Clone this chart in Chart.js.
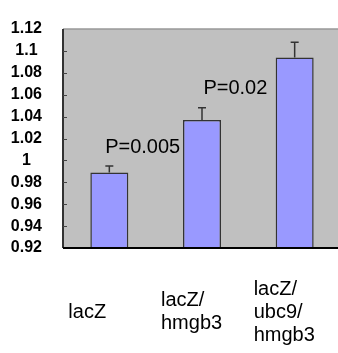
<!DOCTYPE html>
<html>
<head>
<meta charset="utf-8">
<script src="https://cdn.jsdelivr.net/npm/chart.js@4.4.1/dist/chart.umd.min.js"></script>
<style>
  html, body { margin: 0; padding: 0; background: #fff; overflow: hidden; }
  #barChart { display: block; }
</style>
</head>
<body>
<canvas id="barChart" width="341" height="353"></canvas>
<script>
const categories = [['lacZ'], ['lacZ/', 'hmgb3'], ['lacZ/', 'ubc9/', 'hmgb3']];
const means = [0.989, 1.037, 1.094];
const errors = [0.006, 0.011, 0.014];
const yTicks = [0.92, 0.94, 0.96, 0.98, 1.0, 1.02, 1.04, 1.06, 1.08, 1.1, 1.12];
const pLabels = ['P=0.005', 'P=0.02'];
const pX = [0.36, 1.36];   // in category units
const pY = [1.012, 1.066]; // in value units

const FONT = '"Liberation Sans", Arial, sans-serif';

// gray plot area, frame, inward ticks, error bars and p-values
const plotDecor = {
    id: 'plotDecor',
    beforeDraw(chart) {
        const {ctx, chartArea: a} = chart;
        ctx.save();
        ctx.fillStyle = '#c0c0c0';
        ctx.fillRect(a.left, a.top, a.right - a.left, a.bottom - a.top);
        ctx.restore();
    },
    afterDatasetsDraw(chart) {
        const {ctx, chartArea: a, scales: {x, y}} = chart;
        ctx.save();

        ctx.strokeStyle = '#999';
        ctx.lineWidth = 1.5;
        ctx.beginPath();
        ctx.moveTo(a.left, a.top);
        ctx.lineTo(a.right, a.top);
        ctx.stroke();

        ctx.strokeStyle = '#333';
        ctx.lineWidth = 2;
        ctx.beginPath();
        ctx.moveTo(a.left, a.top);
        ctx.lineTo(a.left, a.bottom);
        ctx.stroke();
        ctx.strokeStyle = '#000';
        ctx.beginPath();
        ctx.moveTo(a.left, a.bottom);
        ctx.lineTo(a.right, a.bottom);
        ctx.stroke();

        ctx.strokeStyle = '#444';
        ctx.lineWidth = 1;
        yTicks.slice(1, -1).forEach(v => {
            const py = Math.round(y.getPixelForValue(v)) + 0.5;
            ctx.beginPath();
            ctx.moveTo(a.left, py);
            ctx.lineTo(a.left + 4, py);
            ctx.stroke();
        });

        ctx.strokeStyle = '#333';
        ctx.lineWidth = 1.5;
        means.forEach((m, i) => {
            const px = x.getPixelForValue(i);
            const top = y.getPixelForValue(m);
            const end = y.getPixelForValue(m + errors[i]);
            ctx.beginPath();
            ctx.moveTo(px, top);
            ctx.lineTo(px, end);
            ctx.moveTo(px - 4, end);
            ctx.lineTo(px + 4, end);
            ctx.stroke();
        });

        ctx.fillStyle = '#000';
        ctx.font = '20px ' + FONT;
        ctx.textAlign = 'center';
        ctx.textBaseline = 'middle';
        pLabels.forEach((t, i) => {
            ctx.fillText(t, x.getPixelForValue(pX[i]), y.getPixelForValue(pY[i]));
        });
        ctx.restore();
    }
};

let ctxBar = document.getElementById('barChart').getContext('2d');

let barChart = new Chart(ctxBar, {
    type: 'bar', data: {
        labels: categories, datasets: [{
            data: means,
            backgroundColor: '#9999ff',
            borderColor: '#333',
            borderWidth: 1.5,
            categoryPercentage: 1,
            barPercentage: 0.41
        }]
    }, options: {
        responsive: false, animation: false, devicePixelRatio: 1,
        layout: {padding: {top: 12, left: 0, right: 0, bottom: 0}},
        plugins: {legend: {display: false}, tooltip: {enabled: false}},
        scales: {
            x: {
                grid: {display: false, drawTicks: false},
                border: {display: false},
                ticks: {
                    font: {family: FONT, size: 20, lineHeight: 1.15},
                    color: '#000',
                    align: 'start',
                    labelOffset: -41,
                    padding: 41,
                    crossAlign: 'center',
                    maxRotation: 0,
                    autoSkip: false
                },
                afterFit: s => { s.height = 105; s.paddingLeft = 0; s.paddingRight = 0; }
            },
            y: {
                min: 0.92, max: 1.12,
                afterBuildTicks: s => { s.ticks = yTicks.map(v => ({value: v})); },
                grid: {drawOnChartArea: false, drawTicks: false},
                border: {display: false},
                ticks: {
                    font: {family: FONT, size: 16, weight: 'bold', lineHeight: 1},
                    color: '#000',
                    crossAlign: 'center',
                    padding: 21,
                    autoSkip: false,
                    callback: v => String(+v.toFixed(2))
                },
                afterFit: s => { s.width = 63; }
            }
        }
    },
    plugins: [plotDecor]
});
</script>
</body>
</html>
